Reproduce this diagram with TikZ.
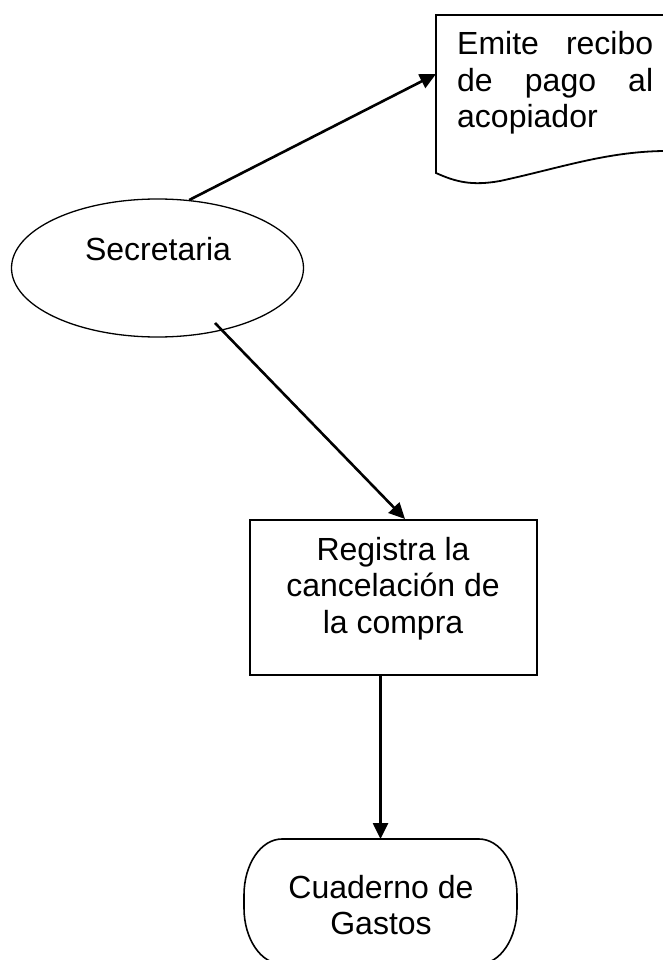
\documentclass[tikz,border=0pt]{standalone}
\usepackage{fontspec}
\setmainfont{Liberation Sans}
\usetikzlibrary{shapes.geometric,arrows.meta,calc}
\newcommand\ctrline[1]{\hbox to 0pt{\hss #1\hss}}
\begin{document}
\begin{tikzpicture}[x=1pt,y=-1pt,
  txt/.style={inner sep=0pt, font=\fontsize{32}{36.5}\selectfont, anchor=base},
  conn/.style={line width=2.6pt, -{Triangle[length=16pt,width=15pt]}},
  ghost/.style={inner sep=0pt, outer sep=0pt}]
\useasboundingbox (0,0) rectangle (663,960);
\fill[white] (0,0) rectangle (663,960);
\clip (0,0) rectangle (663,960);

% document shape
\node[ghost, minimum width=264pt, minimum height=160pt] (doc) at (568,95) {};
\draw[line width=1.8pt] (436,15) -- (436,173)
  .. controls (456,182) and (472,186) .. (500,181)
  .. controls (560,168) and (605,152) .. (663,151)
  -- (700,150) -- (700,15) -- cycle;
\node[txt, anchor=base west] (doct) at (457,55)
  {\vtop{\hbox to 196pt{Emite\hfill recibo}\hbox to 196pt{de\hfill pago\hfill al}\hbox{acopiador}}};

% ellipse
\node[ellipse, draw, line width=1.3pt, minimum width=292pt, minimum height=138pt, inner sep=0pt] (sec) at (157.5,268) {};
\node[txt] (sect) at (158,260) {Secretaria};

% rectangle
\node[draw, line width=2pt, minimum width=287pt, minimum height=155pt, inner sep=0pt] (reg) at (393.5,597.5) {};
\node[txt] (regt) at (393,560) {\vtop{\ctrline{Registra la}\ctrline{cancelación de}\ctrline{la compra}}};

% terminal shape
\node[ghost, minimum width=273pt, minimum height=125pt] (cua) at (380.5,901.5) {};
\draw[line width=1.6pt] (282,839) -- (479,839)
  .. controls (500,839) and (517,864) .. (517,895) -- (517,908)
  .. controls (517,939) and (500,964) .. (479,964) -- (282,964)
  .. controls (261,964) and (244,939) .. (244,908) -- (244,895)
  .. controls (244,864) and (261,839) .. (282,839) -- cycle;
\node[txt] (cuat) at (381,898) {\vtop{\ctrline{Cuaderno de}\ctrline{Gastos}}};

% connectors
\coordinate (a1s) at (sec.65);
\coordinate (a1e) at (doc.west |- 0,74);
\coordinate (a2s) at (215,323);
\coordinate (a2e) at (reg.north -| 405,0);
\draw[conn] (a1s) -- (a1e);
\draw[conn] (a2s) -- (a2e);
\draw[conn] (reg.south -| cua.north) -- (cua.north);
\end{tikzpicture}
\end{document}
